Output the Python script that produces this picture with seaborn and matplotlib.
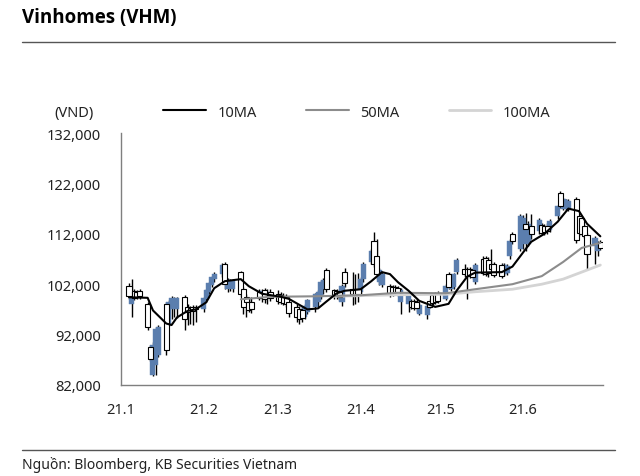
import matplotlib
matplotlib.use('Agg')
import matplotlib.pyplot as plt
from matplotlib.lines import Line2D
from matplotlib.ticker import FuncFormatter
import seaborn as sns
import pandas as pd

sns.set_theme(style='white')
plt.rcParams['font.family'] = ['Noto Sans', 'DejaVu Sans']

# trading days (weekdays), prices in thousand VND
days = pd.bdate_range('2021-01-04', '2021-06-30')

opens = [101.6, 98.0, 100.6, 100.4, 100.6, 98.0, 89.5, 84.0, 86.0, 88.0,
         98.0, 94.0, 97.0, 97.2, 97.0, 99.5, 97.5, 97.2, 97.5, 97.4,
         # Feb
         97.0, 99.0, 100.5, 101.8, 103.0, 104.0, 106.0, 101.0, 101.2, 101.0,
         104.4, 101.0, 99.5, 98.5, 98.5, 100.5, 99.2, 100.8, 99.5, 100.5,
         # Mar
         100.0, 99.8, 99.6, 99.5, 98.5, 97.5, 97.0, 96.8, 95.5, 96.5,
         97.5, 98.5, 99.5, 101.0, 104.8, 100.8, 100.6, 100.5, 98.5, 104.5,
         101.0, 100.8, 101.0,
         # Apr
         100.5, 103.0, 106.5, 110.5, 107.5, 102.5, 101.8, 101.6, 101.4, 101.5,
         101.2, 98.5, 98.0, 98.7, 98.6, 98.5, 96.0, 95.8, 98.6, 99.8,
         100.0, 100.2,
         # May
         99.0, 104.0, 101.0, 101.5, 104.4, 105.0, 105.0, 105.0, 104.8, 102.5,
         107.0, 107.2, 106.8, 106.0, 106.0, 105.8, 104.0, 104.2, 107.6, 112.0,
         109.0,
         # Jun
         110.0, 114.0, 110.0, 113.5, 112.5, 113.8, 113.6, 113.5, 112.8, 115.5,
         120.0, 117.0, 117.2, 117.0, 119.0, 115.5, 115.2, 113.6, 111.8, 109.6,
         108.6, 110.4]

highs = [102.2, 103.0, 101.0, 100.8, 101.0, 98.5, 90.0, 90.5, 93.5, 94.0,
         98.5, 98.8, 99.6, 99.5, 99.4, 99.8, 98.0, 97.6, 97.8, 97.8,
         99.5, 101.0, 102.5, 103.6, 104.5, 106.2, 106.5, 103.2, 103.0, 103.0,
         104.6, 101.5, 100.0, 99.2, 99.5, 101.0, 101.0, 101.2, 101.0, 101.0,
         100.8, 100.5, 100.2, 100.0, 99.0, 98.0, 97.6, 97.5, 98.0, 99.0,
         100.2, 100.8, 102.8, 103.2, 105.2, 101.0, 101.0, 100.8, 102.0, 105.2,
         104.4, 104.0, 104.2,
         103.5, 106.5, 109.0, 112.4, 111.0, 105.2, 104.5, 102.0, 101.8, 101.8,
         101.6, 101.2, 100.5, 99.0, 99.0, 99.0, 98.2, 98.0, 99.0, 100.2,
         100.5, 100.6,
         102.0, 104.4, 104.0, 104.2, 107.2, 106.0, 105.5, 105.4, 105.2, 106.2,
         107.5, 107.5, 107.4, 109.0, 106.5, 106.2, 106.2, 106.0, 111.0, 112.4,
         116.0,
         115.8, 116.2, 114.5, 116.0, 115.2, 114.2, 114.0, 114.2, 115.0, 117.8,
         120.5, 119.2, 119.0, 119.0, 119.4, 116.0, 115.6, 114.0, 112.2, 111.6,
         110.5, 110.8]

lows = [99.0, 95.5, 98.8, 99.0, 99.0, 93.0, 86.8, 83.8, 84.0, 87.5,
        88.0, 93.8, 95.0, 95.5, 95.2, 93.0, 94.0, 94.2, 94.0, 94.5,
        96.5, 98.5, 100.0, 101.5, 102.5, 103.5, 101.0, 100.5, 100.6, 100.5,
        99.5, 96.0, 95.5, 96.5, 96.2, 98.8, 98.5, 98.2, 98.0, 98.6,
        98.0, 98.0, 97.8, 97.5, 95.5, 94.5, 94.2, 94.5, 95.0, 96.0,
        96.5, 97.5, 99.0, 100.0, 100.5, 99.0, 99.0, 98.8, 97.6, 101.5,
        97.8, 98.0, 98.5,
        100.0, 102.5, 106.0, 105.5, 103.0, 101.8, 101.5, 99.5, 99.6, 99.8,
        99.7, 96.0, 96.5, 97.0, 96.8, 96.5, 95.8, 95.0, 97.2, 97.8,
        98.0, 98.2,
        98.8, 101.0, 100.6, 101.0, 104.0, 103.5, 99.0, 103.2, 103.0, 102.0,
        103.8, 103.6, 103.5, 104.5, 103.4, 103.2, 103.6, 103.8, 107.0, 110.0,
        108.5,
        109.0, 108.5, 109.5, 111.0, 112.0, 111.8, 111.8, 112.0, 112.4, 115.0,
        117.2, 116.8, 116.5, 116.6, 110.2, 111.5, 111.8, 111.2, 105.0, 106.0,
        107.5, 108.8]

closes = [99.6, 100.5, 99.2, 99.4, 99.6, 93.5, 87.2, 90.0, 93.2, 93.5,
          89.0, 98.5, 99.3, 99.0, 99.2, 95.0, 96.5, 96.8, 96.6, 97.0,
          99.2, 100.8, 102.2, 103.4, 104.0, 105.8, 102.0, 102.8, 102.5, 102.6,
          100.0, 97.5, 98.5, 96.8, 97.0, 99.2, 100.6, 99.0, 100.5, 99.2,
          98.6, 98.4, 98.3, 98.0, 96.2, 95.5, 95.0, 95.2, 97.6, 98.8,
          100.0, 100.5, 102.5, 102.8, 101.0, 99.6, 99.8, 99.5, 101.6, 102.2,
          100.0, 99.8, 100.0,
          103.0, 106.0, 108.6, 106.0, 104.0, 104.8, 104.0, 100.0, 100.2, 100.0,
          100.1, 100.8, 100.2, 97.4, 97.3, 97.2, 97.8, 97.6, 97.5, 98.2,
          98.4, 98.6,
          101.6, 101.5, 103.8, 104.0, 106.8, 104.0, 103.6, 103.8, 103.5, 105.8,
          104.2, 104.0, 104.2, 105.0, 103.8, 103.6, 105.8, 105.6, 110.6, 110.5,
          115.5,
          115.2, 113.0, 114.0, 112.0, 114.8, 112.2, 112.4, 112.5, 114.6, 117.5,
          117.6, 119.0, 118.8, 118.6, 110.8, 112.2, 112.0, 111.6, 108.0, 111.2,
          110.2, 109.2]

# moving averages
ma10_dates = ['2021-01-04', '2021-01-11', '2021-01-13', '2021-01-18', '2021-01-20',
              '2021-01-22', '2021-01-26', '2021-01-29', '2021-02-02', '2021-02-05',
              '2021-02-09', '2021-02-15', '2021-02-18', '2021-02-23', '2021-03-02',
              '2021-03-05', '2021-03-08', '2021-03-12', '2021-03-16', '2021-03-19',
              '2021-03-23', '2021-03-26', '2021-04-01', '2021-04-05', '2021-04-09',
              '2021-04-12', '2021-04-15', '2021-04-19', '2021-04-23', '2021-04-29',
              '2021-05-04', '2021-05-07', '2021-05-11', '2021-05-14', '2021-05-24',
              '2021-05-28', '2021-06-04', '2021-06-09', '2021-06-14', '2021-06-18',
              '2021-06-22', '2021-06-25', '2021-06-30']
ma10 = [99.4, 99.3, 96.8, 94.2, 93.9, 95.4, 96.7, 97.0, 98.4, 101.2,
        102.6, 103.0, 101.6, 100.1, 99.5, 99.1, 98.2, 97.0, 97.2, 98.5,
        100.2, 100.7, 101.0, 102.6, 104.4, 104.0, 102.4, 100.7, 98.7, 97.5,
        98.1, 100.7, 103.5, 104.3, 104.4, 105.5, 110.4, 112.0, 114.4, 117.0,
        116.5, 114.0, 111.5]

ma50_dates = ['2021-02-15', '2021-02-26', '2021-03-15', '2021-04-01', '2021-04-15',
              '2021-05-03', '2021-05-14', '2021-05-28', '2021-06-08', '2021-06-16',
              '2021-06-23', '2021-06-30']
ma50 = [99.0, 99.5, 99.6, 99.8, 100.3, 100.2, 101.0, 102.0, 103.6, 106.4, 109.2, 110.2]

ma100_dates = ['2021-03-22', '2021-04-15', '2021-05-03', '2021-05-14', '2021-05-28',
               '2021-06-08', '2021-06-16', '2021-06-23', '2021-06-30']
ma100 = [99.6, 99.9, 100.0, 100.5, 101.0, 102.0, 103.0, 104.4, 105.8]

month_ticks = ['2021-01-01', '2021-02-01', '2021-03-01', '2021-04-01',
               '2021-05-01', '2021-06-01', '2021-07-01']
month_labels = ['21.1', '21.2', '21.3', '21.4', '21.5', '21.6', '']

blue = '#5b7eae'
axis_col = '#7f7f7f'

df = pd.DataFrame({'date': days, 'open': opens, 'high': highs,
                   'low': lows, 'close': closes})
for c in ['open', 'high', 'low', 'close']:
    df[c] = df[c] * 1000
up = df['close'] >= df['open']

fig = plt.figure(figsize=(6.4, 4.77), dpi=100)
ax = fig.add_axes([121 / 640, 1 - 386 / 477, 482 / 640, 252 / 477])

# candles
ax.vlines(df['date'], df['low'], df['high'], color='black', lw=1.0, zorder=1)
ax.bar(df['date'][up], (df['close'] - df['open'])[up], bottom=df['open'][up],
       width=1.9, color=blue, edgecolor=blue, lw=0.3, zorder=2)
ax.bar(df['date'][~up], (df['open'] - df['close'])[~up], bottom=df['close'][~up],
       width=1.9, color='white', edgecolor='black', lw=0.8, zorder=2)

# moving averages
sns.lineplot(x=pd.to_datetime(ma100_dates), y=[v * 1000 for v in ma100],
             color='#d4d4d4', lw=2, ax=ax, zorder=3)
sns.lineplot(x=pd.to_datetime(ma50_dates), y=[v * 1000 for v in ma50],
             color='#8c8c8c', lw=1.5, ax=ax, zorder=4)
sns.lineplot(x=pd.to_datetime(ma10_dates), y=[v * 1000 for v in ma10],
             color='black', lw=1.5, ax=ax, zorder=5)

ax.set_xlim(pd.Timestamp('2021-01-01'), pd.Timestamp('2021-07-01'))
ax.set_ylim(82000, 132000)
ax.set_yticks(range(82000, 132001, 10000))
ax.yaxis.set_major_formatter(FuncFormatter(lambda v, p: f'{v:,.0f}'))
ax.set_xticks(pd.to_datetime(month_ticks))
ax.set_xticklabels(month_labels)
ax.set_xlabel('')
ax.set_ylabel('')

for s in ['top', 'right']:
    ax.spines[s].set_visible(False)
for s in ['left', 'bottom']:
    ax.spines[s].set_color(axis_col)
    ax.spines[s].set_linewidth(1)

ax.tick_params(axis='y', direction='inout', length=9, width=1, color=axis_col,
               labelsize=10.5, pad=10, labelcolor='#222222')
ax.tick_params(axis='x', direction='in', length=5, width=1, color=axis_col,
               labelsize=10.5, pad=12, labelcolor='#222222')

handles = [Line2D([], [], color='black', lw=1.5),
           Line2D([], [], color='#8c8c8c', lw=1.5),
           Line2D([], [], color='#d4d4d4', lw=2)]
ax.legend(handles, ['10MA', '50MA', '100MA'], ncol=3, frameon=False,
          loc='center', bbox_to_anchor=(0.49, 1.083), fontsize=10.5,
          handlelength=2.9, handletextpad=0.8, columnspacing=3.4)

ax.text(-0.098, 1.083, '(VND)', transform=ax.transAxes, ha='center', va='center',
        fontsize=10.5, color='#222222')

# header and footer
fig.text(22 / 640, 1 - 18 / 477, 'Vinhomes (VHM)', fontsize=13.5, weight='bold',
         family=['Open Sans', 'Liberation Sans'],
         ha='left', va='center', color='black')
fig.add_artist(Line2D([22 / 640, 615 / 640], [1 - 43 / 477, 1 - 43 / 477],
                      color='#555555', lw=1, transform=fig.transFigure))
fig.add_artist(Line2D([22 / 640, 615 / 640], [1 - 451 / 477, 1 - 451 / 477],
                      color='#555555', lw=1, transform=fig.transFigure))
fig.text(22 / 640, 1 - 465 / 477, 'Nguồn: Bloomberg, KB Securities Vietnam',
         fontsize=10, ha='left', va='center', color='#222222')

fig.savefig('out.png', dpi=100)
